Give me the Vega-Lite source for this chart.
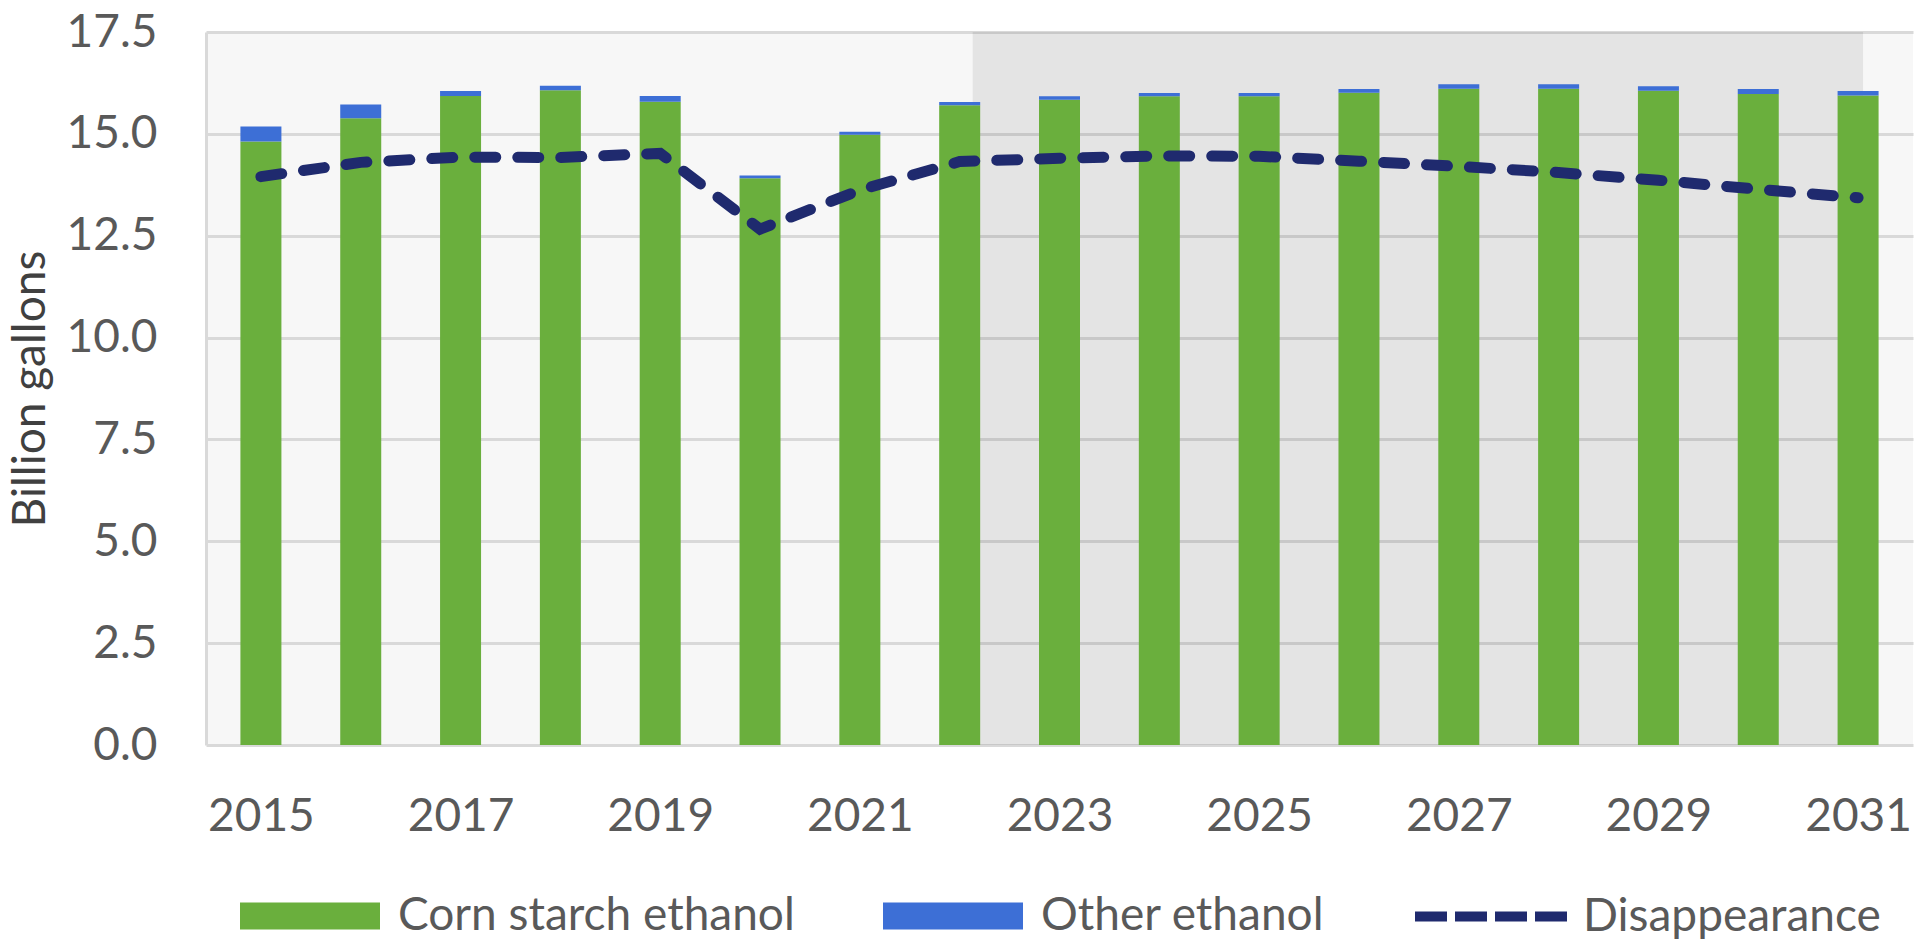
{
  "$schema": "https://vega.github.io/schema/vega-lite/v6.json",
  "width": 1707,
  "height": 713,
  "autosize": {"type": "none"},
  "padding": {"left": 206, "top": 32, "right": 8, "bottom": 198},
  "background": "#ffffff",
  "config": {
    "font": "Lato",
    "view": {"fill": "#f7f7f7", "stroke": null}
  },
  "datasets": {
    "ethanol": [
      {"year": 2015, "corn": 14.81, "other": 0.37, "disappearance": 13.95},
      {"year": 2016, "corn": 15.38, "other": 0.34, "disappearance": 14.3},
      {"year": 2017, "corn": 15.93, "other": 0.12, "disappearance": 14.43},
      {"year": 2018, "corn": 16.07, "other": 0.11, "disappearance": 14.42},
      {"year": 2019, "corn": 15.79, "other": 0.14, "disappearance": 14.52},
      {"year": 2020, "corn": 13.91, "other": 0.07, "disappearance": 12.66},
      {"year": 2021, "corn": 14.98, "other": 0.07, "disappearance": 13.62},
      {"year": 2022, "corn": 15.7, "other": 0.08, "disappearance": 14.32},
      {"year": 2023, "corn": 15.84, "other": 0.08, "disappearance": 14.4},
      {"year": 2024, "corn": 15.92, "other": 0.08, "disappearance": 14.46},
      {"year": 2025, "corn": 15.92, "other": 0.08, "disappearance": 14.45},
      {"year": 2026, "corn": 16.01, "other": 0.09, "disappearance": 14.33},
      {"year": 2027, "corn": 16.11, "other": 0.11, "disappearance": 14.2},
      {"year": 2028, "corn": 16.11, "other": 0.11, "disappearance": 14.05},
      {"year": 2029, "corn": 16.06, "other": 0.11, "disappearance": 13.86},
      {"year": 2030, "corn": 15.98, "other": 0.12, "disappearance": 13.64},
      {"year": 2031, "corn": 15.94, "other": 0.11, "disappearance": 13.43}
    ],
    "projection": [{"start": 2022.13, "end": 2031.05}]
  },
  "layer": [
    {
      "data": {"name": "projection"},
      "mark": {"type": "rect", "color": "#000000", "opacity": 0.075},
      "encoding": {
        "x": {"field": "start", "type": "quantitative", "scale": {"domain": [2014.5, 2031.5], "nice": false, "zero": false},
              "axis": {"values": [2015, 2017, 2019, 2021, 2023, 2025, 2027, 2029, 2031], "format": "d", "title": null, "grid": false, "domain": false, "ticks": false, "tickSize": 0, "labelPadding": 49, "labelFontSize": 46, "labelColor": "#595959", "labelFlush": false, "labelOverlap": false}},
        "x2": {"field": "end"}
      }
    },
    {
      "data": {"name": "ethanol"},
      "transform": [{"fold": ["corn", "other"], "as": ["type", "value"]}],
      "mark": {"type": "bar", "width": 41},
      "encoding": {
        "x": {"field": "year", "type": "quantitative", "scale": {"domain": [2014.5, 2031.5], "nice": false, "zero": false},
              "axis": {"values": [2015, 2017, 2019, 2021, 2023, 2025, 2027, 2029, 2031], "format": "d", "title": null, "grid": false, "domain": false, "ticks": false, "tickSize": 0, "labelPadding": 49, "labelFontSize": 46, "labelColor": "#595959", "labelFlush": false, "labelOverlap": false}},
        "y": {"field": "value", "type": "quantitative", "stack": "zero", "scale": {"domain": [0, 17.5], "nice": false},
              "axis": {"values": [0, 2.5, 5, 7.5, 10, 12.5, 15, 17.5], "format": ".1f", "title": "Billion gallons", "titleFontSize": 46, "titleFontWeight": "normal", "titleColor": "#404040", "titlePadding": 12, "labelFontSize": 46, "labelColor": "#595959", "labelPadding": 49, "ticks": false, "tickSize": 0, "gridColor": "#d9d9d9", "gridWidth": 3, "domainColor": "#d9d9d9", "domainWidth": 3, "labelFlush": false, "labelOverlap": false}},
        "color": {"field": "type", "type": "nominal",
                  "scale": {"domain": ["corn", "other"], "range": ["#6aaf3d", "#3d6fd6"]},
                  "legend": {"orient": "none", "legendX": 34, "legendY": 814, "direction": "horizontal", "title": null, "padding": 0,
                             "symbolType": "M-1,-0.193H1V0.193H-1Z", "symbolSize": 19600, "symbolStrokeWidth": 0, "symbolOpacity": 1,
                             "labelFontSize": 46, "labelColor": "#595959", "labelOffset": 18, "labelLimit": 700, "columnPadding": 88,
                             "labelExpr": "datum.label == 'corn' ? 'Corn starch ethanol' : 'Other ethanol'"}},
        "order": {"field": "type", "sort": "ascending"}
      }
    },
    {
      "data": {"name": "ethanol"},
      "mark": {"type": "line", "strokeWidth": 11, "strokeDash": [21, 22], "strokeCap": "round"},
      "encoding": {
        "x": {"field": "year", "type": "quantitative", "scale": {"domain": [2014.5, 2031.5], "nice": false, "zero": false},
              "axis": {"values": [2015, 2017, 2019, 2021, 2023, 2025, 2027, 2029, 2031], "format": "d", "title": null, "grid": false, "domain": false, "ticks": false, "tickSize": 0, "labelPadding": 49, "labelFontSize": 46, "labelColor": "#595959", "labelFlush": false, "labelOverlap": false}},
        "y": {"field": "disappearance", "type": "quantitative", "scale": {"domain": [0, 17.5], "nice": false},
              "axis": {"values": [0, 2.5, 5, 7.5, 10, 12.5, 15, 17.5], "format": ".1f", "title": "Billion gallons", "titleFontSize": 46, "titleFontWeight": "normal", "titleColor": "#404040", "titlePadding": 12, "labelFontSize": 46, "labelColor": "#595959", "labelPadding": 49, "ticks": false, "tickSize": 0, "gridColor": "#d9d9d9", "gridWidth": 3, "domainColor": "#d9d9d9", "domainWidth": 3, "labelFlush": false, "labelOverlap": false}},
        "stroke": {"datum": "Disappearance", "type": "nominal",
                   "scale": {"range": ["#1f2a6e"]},
                   "legend": {"orient": "none", "legendX": 1204, "legendY": 803, "title": null, "padding": 0,
                              "symbolType": "M-1,0H1", "symbolSize": 23409, "symbolStrokeWidth": 10, "symbolDash": [32, 8],
                              "labelFontSize": 46, "labelColor": "#595959", "labelOffset": 10, "labelLimit": 700}}
      }
    }
  ]
}
